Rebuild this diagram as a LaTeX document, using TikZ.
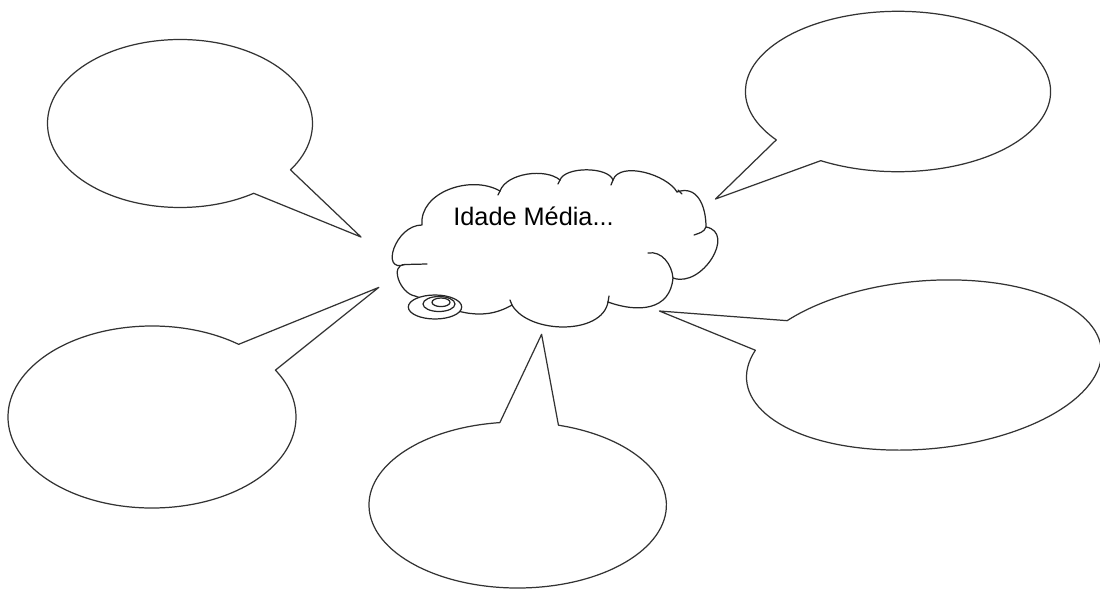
\documentclass[tikz,border=0pt]{standalone}
\usepackage{fontspec}
\setmainfont{Liberation Sans}
\usetikzlibrary{calc}

\begin{document}
\begin{tikzpicture}[
    x=0.02cm, y=0.02cm,
    bubble/.style={draw=black!80, line width=0.7pt, line join=round},
    cloud_line/.style={draw=black!85, line width=0.7pt, line cap=round},
    cloud_text/.style={font=\fontsize{14.4}{17}\selectfont, anchor=base west, inner sep=0pt}
]
    \useasboundingbox (0,0) rectangle (1100,-589);

    % ========== CENTRE: thought cloud ==========

    % Cloud outline, bump by bump
    \draw[cloud_line, fill=white] (422,-225)
        to[out=95, in=150] (500,-191)
        to[out=70, in=140, looseness=0.8] (560,-180)
        to[out=70, in=110, looseness=0.7] (613,-180)
        to[out=70, in=120, looseness=0.8] (677,-192)
        to[out=20, in=90, looseness=1.2] (706,-227)
        to[out=-10, in=-20, looseness=1.3] (673,-278)
        to[out=-95, in=-20, looseness=1.2] (608,-302)
        to[out=-100, in=-60, looseness=0.9] (512,-305)
        to[out=-150, in=-20] (415,-296)
        to[out=170, in=180, looseness=1.2] (405,-264.5)
        to[out=200, in=180, looseness=1.6] (422,-225);

    % Folds between the bumps
    \draw[cloud_line] (500,-191) -- (498,-195);
    \draw[cloud_line] (560,-180) -- (558,-184);
    \draw[cloud_line] (613,-180) -- (611,-185);
    \draw[cloud_line] (678,-190) -- (682,-194);
    \draw[cloud_line] (706,-227) to[out=-110, in=20] (694,-235);
    \draw[cloud_line] (648,-253) to[out=10, in=95] (673,-278);
    \draw[cloud_line] (608,-302) -- (609,-296);
    \draw[cloud_line] (512,-305) -- (510,-300);
    \draw[cloud_line] (405,-264.5) -- (427,-264);

    % Little spiral at the bottom left
    \draw[cloud_line, fill=white] (435,-307) ellipse [x radius=26.7, y radius=12];
    \draw[cloud_line] (439,-304) ellipse [x radius=16, y radius=7.5];
    \draw[cloud_line] (441,-302.3) ellipse [x radius=9, y radius=4.3];

    \node[cloud_text] (title) at (453,-225) {Idade Média...};

    % ========== SPEECH BUBBLES ==========

    % Top left
    \coordinate (tl_c) at (180,-123.5);
    \coordinate (tl_tip) at (361,-237);
    \draw[bubble] ($(tl_c)+(-33.5:132.5 and 84)$)
        arc[start angle=-33.5, end angle=303.8, x radius=132.5, y radius=84]
        -- (tl_tip) -- cycle;

    % Top right
    \coordinate (tr_c) at (898,-91.5);
    \coordinate (tr_tip) at (715.5,-199);
    \draw[bubble] ($(tr_c)+(239.6:152.6 and 80.2)$)
        arc[start angle=239.6, end angle=577.1, x radius=152.6, y radius=80.2]
        -- (tr_tip) -- cycle;

    % Middle left
    \coordinate (ml_c) at (152,-417);
    \coordinate (ml_tip) at (378.8,-287.4);
    \draw[bubble] ($(ml_c)+(53:144 and 91)$)
        arc[start angle=53, end angle=391, x radius=144, y radius=91]
        -- (ml_tip) -- cycle;

    % Bottom middle
    \coordinate (bm_c) at (517.7,-505);
    \coordinate (bm_tip) at (541.6,-334.3);
    \draw[bubble] ($(bm_c)+(96.9:148.7 and 83)$)
        arc[start angle=96.9, end angle=434.1, x radius=148.7, y radius=83]
        -- (bm_tip) -- cycle;

    % Right (slightly tilted)
    \coordinate (rt_c) at (924,-365);
    \coordinate (rt_tip) at (659.4,-311);
    \begin{scope}[shift={(rt_c)}, rotate=5]
        \draw[bubble] (159.5:178 and 84)
            arc[start angle=159.5, end angle=498.1, x radius=178, y radius=84]
            -- (rt_tip) -- cycle;
    \end{scope}

\end{tikzpicture}
\end{document}
